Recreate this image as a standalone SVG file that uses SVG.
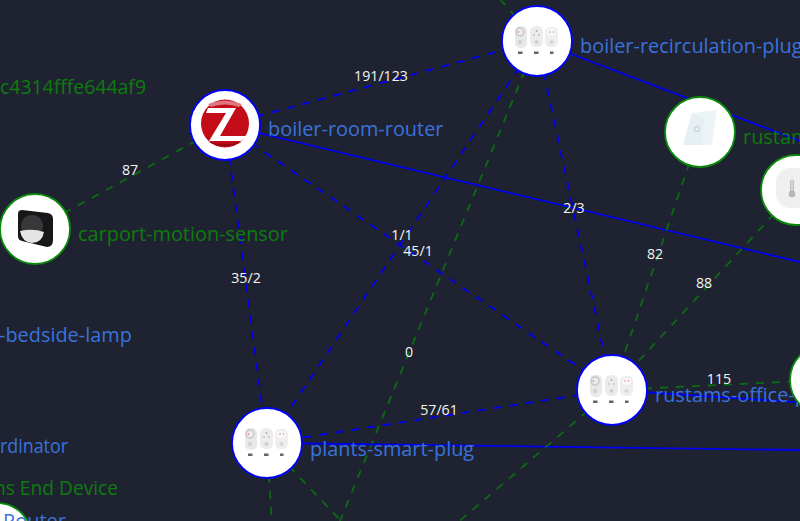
<svg xmlns="http://www.w3.org/2000/svg" xmlns:xlink="http://www.w3.org/1999/xlink" width="800" height="521" viewBox="0 0 800 521">
<style>
.bg{fill:#1f2331}
.e{fill:none;stroke-width:1.8}
.d{stroke-dasharray:8 8}
.b{stroke:#0000f0}
.g{stroke:#0c6a14}
.lbl{font-family:"Open Sans","Noto Sans",sans-serif;font-size:19.9px}
.lb{fill:#3a72dc}
.lg{fill:#0c7c0c}
.el{font-family:"Open Sans","Noto Sans",sans-serif;font-size:14.2px;fill:#f4f4f4;text-anchor:middle}
.nb{fill:#fff;stroke:#0000ff;stroke-width:1.8}
.ng{fill:#fff;stroke:#0a8a0a;stroke-width:1.8}
</style>
<defs>
<filter id="soft" x="-10%" y="-10%" width="120%" height="120%"><feGaussianBlur stdDeviation="0.35"/></filter>
<symbol id="plug" viewBox="-35 -35 70 70" overflow="visible">
<g filter="url(#soft)">
<rect x="-22" y="-15" width="12" height="22" rx="5" fill="#e9e9e9"/>
<circle cx="-17" cy="-9" r="5" fill="#cfcfcf"/><circle cx="-17" cy="-9" r="3" fill="#eee"/><circle cx="-18.500" cy="-9" r=".8" fill="#e66"/>
<circle cx="-17" cy="1" r="2.200" fill="#d2d2d2"/>
<rect x="-7" y="-15" width="13" height="21" rx="5.500" fill="#ececec"/>
<circle cx="-.5" cy="-10" r=".8" fill="#888"/><circle cx="-3" cy="-6" r=".8" fill="#aaa"/><circle cx="2" cy="-6" r=".8" fill="#aaa"/><circle cx="-.5" cy="1" r="2" fill="#d0d0d0"/>
<rect x="8" y="-14" width="13" height="20" rx="5" fill="#eeeeee"/>
<rect x="10" y="-12" width="9" height="7" rx="3" fill="#f8f8f8"/><circle cx="13" cy="-9" r=".7" fill="#e66"/><circle cx="16.500" cy="-9" r=".7" fill="#e66"/><circle cx="14.500" cy="1" r="2" fill="#d6d6d6"/>
<rect x="-19" y="10.500" width="4.500" height="2.500" fill="#666"/><rect x="-3" y="10.500" width="4.500" height="2.500" fill="#666"/><rect x="13" y="10.500" width="3.500" height="2.500" fill="#666"/>
</g>
</symbol>
</defs>
<rect class="bg" width="800" height="521"/>
<g id="connectors">
<line class="e d b" x1="225" y1="125" x2="537" y2="41"/>
<line class="e d g" x1="225" y1="125" x2="35" y2="229"/>
<line class="e d b" x1="225" y1="125" x2="267" y2="443"/>
<line class="e d b" x1="225" y1="125" x2="612" y2="390"/>
<line class="e b" x1="225" y1="125" x2="800" y2="262"/>
<line class="e d b" x1="537" y1="41" x2="267" y2="443"/>
<line class="e d b" x1="537" y1="41" x2="612" y2="390"/>
<line class="e b" x1="537" y1="41" x2="800" y2="141"/>
<line class="e d g" x1="537" y1="41" x2="490" y2="-12"/>
<line class="e d g" x1="537" y1="41" x2="340" y2="521"/>
<line class="e d g" x1="700" y1="132" x2="612" y2="390"/>
<line class="e d g" x1="796" y1="190" x2="612" y2="390"/>
<line class="e d g" x1="612" y1="390" x2="825" y2="380"/>
<line class="e b" x1="612" y1="390" x2="825" y2="404"/>
<line class="e d b" x1="612" y1="390" x2="267" y2="443"/>
<line class="e b" x1="267" y1="443" x2="800" y2="450"/>
<line class="e d g" x1="612" y1="390" x2="455" y2="525"/>
<line class="e d g" x1="267" y1="443" x2="272" y2="525"/>
<line class="e d g" x1="267" y1="443" x2="345" y2="525"/>
</g>
<g id="edge-labels">
<text class="el" x="381" y="81">191/123</text>
<text class="el" x="130" y="175">87</text>
<text class="el" x="246" y="283">35/2</text>
<text class="el" x="402" y="240">1/1</text>
<text class="el" x="418" y="256">45/1</text>
<text class="el" x="574" y="213">2/3</text>
<text class="el" x="655" y="259">82</text>
<text class="el" x="704" y="288">88</text>
<text class="el" x="409" y="357">0</text>
<text class="el" x="719" y="384">115</text>
<text class="el" x="439" y="415">57/61</text>
</g>
<g id="n-offscreen-top-left"><text class="lbl lg" x="0" y="94" textLength="146" lengthAdjust="spacingAndGlyphs">c4314fffe644af9</text></g>
<g id="n-bedside-lamp"><text class="lbl lb" x="-1" y="342">-bedside-lamp</text></g>
<g id="n-coordinator"><text class="lbl lb" x="0" y="453" textLength="68" lengthAdjust="spacingAndGlyphs">rdinator</text></g>
<g id="n-end-device"><text class="lbl lg" x="-6" y="495" textLength="124" lengthAdjust="spacingAndGlyphs">ns End Device</text></g>
<g id="n-router">
<circle class="ng" cx="-3" cy="538" r="35"/>
<text class="lbl lb" x="3" y="528">Router</text>
</g>
<g id="n-boiler-room-router">
<circle class="nb" cx="225" cy="125" r="35"/>
<circle cx="225" cy="123.500" r="24" fill="#c40c18"/>
<path d="M208 104Q225 97 242 104L239 107Q225 102 211 107Z" fill="#e0777e"/>
<path d="M208 108H236L220 136H247L241 141H209L226 113H206Z" fill="#fff"/>
<path d="M208 142Q225 150 242 142Q225 146 208 142Z" fill="#8c0a12"/>
<text class="lbl lb" x="268" y="136">boiler-room-router</text>
</g>
<g id="n-boiler-recirculation-plug">
<circle class="nb" cx="537" cy="41" r="35"/>
<use xlink:href="#plug" href="#plug" x="502" y="6" width="70" height="70"/>
<text class="lbl lb" x="580" y="53">boiler-recirculation-plug</text>
</g>
<g id="n-rustams-switch">
<circle class="ng" cx="700" cy="132" r="35"/>
<path d="M692 113L717 110L712 145L683 145Z" fill="#edf4f7"/>
<path d="M692 113L704 119L702 145L683 145Z" fill="#e6eff3"/>
<circle cx="697" cy="129" r="2.500" fill="none" stroke="#bcc6ca"/>
<text class="lbl lg" x="743" y="144">rustam</text>
</g>
<g id="n-thermo">
<circle class="ng" cx="796" cy="190" r="35"/>
<rect x="776" y="168" width="40" height="40" rx="14" fill="#f0f0f0"/>
<rect x="790.500" y="180" width="3" height="14" rx="1.500" fill="#d8d8d8" stroke="#aaa" stroke-width=".7"/>
<circle cx="792" cy="194" r="3" fill="#bbb" stroke="#999" stroke-width=".5"/>
</g>
<g id="n-carport-motion-sensor">
<circle class="ng" cx="35" cy="229" r="35"/>
<path d="M22 210L48 213Q53 214 53 219V240Q53 247 47 247L22 241Q18 240 18 236V214Q18 210 22 210Z" fill="#17171a"/>
<circle cx="32" cy="226" r="11" fill="#38383b"/>
<path d="M20 231Q33 228 44 232Q42 243 32 243Q22 242 20 231Z" fill="#e4e4e4"/>
<text class="lbl lg" x="78" y="241">carport-motion-sensor</text>
</g>
<g id="n-plants-smart-plug">
<circle class="nb" cx="267" cy="443" r="35"/>
<use xlink:href="#plug" href="#plug" x="232" y="408" width="70" height="70"/>
<text class="lbl lb" x="310" y="456">plants-smart-plug</text>
</g>
<g id="n-rustams-office-plug">
<circle class="nb" cx="612" cy="390" r="35"/>
<use xlink:href="#plug" href="#plug" x="577" y="355" width="70" height="70"/>
<text class="lbl lb" x="655" y="402">rustams-office-p</text>
</g>
<g id="n-right-edge">
<circle class="ng" cx="825" cy="380" r="35"/>
</g>
</svg>
